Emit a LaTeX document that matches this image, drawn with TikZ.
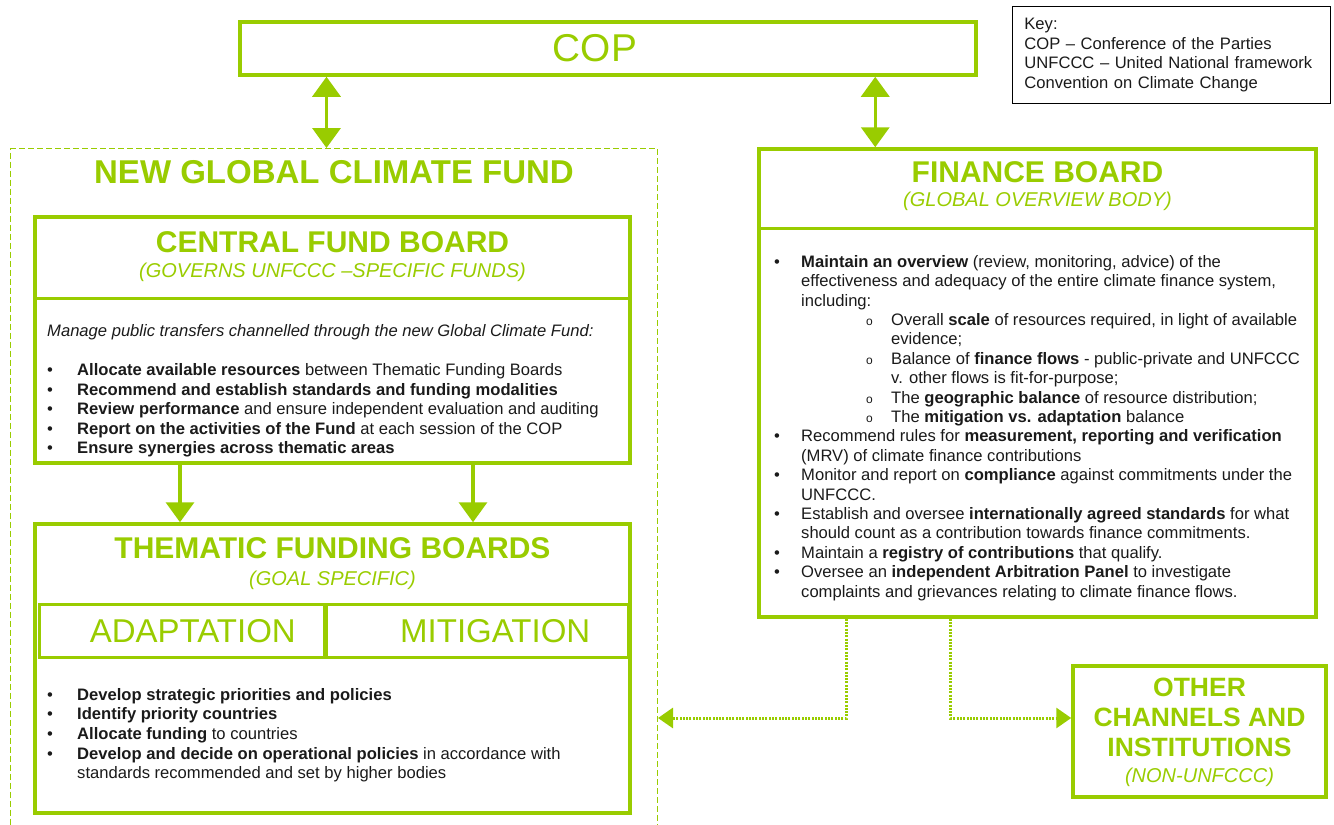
\documentclass[tikz,border=0pt]{standalone}
\usepackage{fontspec}
\setmainfont{Liberation Sans}
\usetikzlibrary{arrows.meta,positioning}

\definecolor{leaf}{RGB}{153,204,0}
\definecolor{ink}{RGB}{26,26,26}

\newcommand{\bul}[1][30pt]{\makebox[#1][l]{\textbullet}}
\newcommand{\sbul}{\hspace*{92pt}\makebox[25pt][l]{\fontsize{12}{12}\selectfont o}}

\tikzset{
  board/.style={draw=leaf, line width=3.5pt, inner sep=0pt},
  rowcell/.style={draw=leaf, line width=2.5pt, inner sep=0pt, text=leaf, font=\fontsize{33}{33}\selectfont},
  boardhead/.style={text=leaf, font=\fontsize{30}{30}\selectfont\bfseries},
  boardsub/.style={text=leaf, font=\fontsize{20}{20}\selectfont\itshape},
  listtext/.style={align=left, anchor=north west, inner sep=0pt, text=ink, font=\fontsize{16.6}{19.6}\selectfont},
  bigarrow/.style={leaf, line width=3.5pt, >={Triangle[width=28pt,length=20pt]}, ->},
  dotarrow/.style={leaf, line width=3pt, dash pattern=on 2pt off 1.3pt, -{Triangle[width=20pt,length=15pt]}},
  splitline/.style={leaf, line width=3.5pt}
}

\begin{document}
\begin{tikzpicture}[x=1pt,y=-1pt]
\useasboundingbox (0,0) rectangle (1334,825);
\clip (0,0) rectangle (1334,825);

% COP and key
\node[board, minimum width=736pt, minimum height=53pt, text=leaf, font=\fontsize{38.8}{38.8}\selectfont] (cop) at (608,48.5) {COP\hspace*{26pt}};
\node[draw=black, line width=0.8pt, anchor=north west, inner xsep=12pt, inner ysep=0pt, text width=294pt, minimum height=97pt, align=left, text=ink, font=\fontsize{16.6}{19.6}\selectfont] (key) at (1012,6) {Key:\\COP – Conference of the Parties\\UNFCCC – United National framework\\Convention on Climate Change};

% new global climate fund
\node[draw=leaf, line width=1pt, dash pattern=on 6pt off 3pt, anchor=north west, minimum width=647pt, minimum height=700pt, inner sep=0pt] (fund) at (10,148) {};
\node[boardhead, font=\fontsize{33}{33}\selectfont\bfseries] (fundtitle) at ([yshift=-24pt]fund.north) {NEW GLOBAL CLIMATE FUND};

% central fund board
\node[board, minimum width=595pt, minimum height=246pt] (cfb) at (332.5,340) {};
\node[boardhead] (cfbtitle) at ([yshift=-27pt]cfb.north) {CENTRAL FUND BOARD};
\node[boardsub] (cfbsub) at ([yshift=-57pt]cfb.north) {(GOVERNS UNFCCC –SPECIFIC FUNDS)};
\draw[splitline] ([yshift=-83pt]cfb.north west) -- ([yshift=-83pt]cfb.north east);
\node[listtext] (cfblist) at (47,324) {\textit{Manage public transfers channelled through the new Global Climate Fund:}\\[19.6pt]
  \bul\textbf{Allocate available resources} between Thematic Funding Boards\\
  \bul\textbf{Recommend and establish standards and funding modalities}\\
  \bul\textbf{Review performance} and ensure independent evaluation and auditing\\
  \bul\textbf{Report on the activities of the Fund} at each session of the COP\\
  \bul\textbf{Ensure synergies across thematic areas}};

% thematic funding boards
\node[board, minimum width=595pt, minimum height=289pt] (tfb) at (332.5,668.5) {};
\node[boardhead] (tfbtitle) at ([yshift=-26pt]tfb.north) {THEMATIC FUNDING BOARDS};
\node[boardsub] (tfbsub) at ([yshift=-58pt]tfb.north) {(GOAL SPECIFIC)};
\node[rowcell, minimum width=284.5pt, minimum height=53pt] (adapt) at (181.75,631) {\hspace*{22pt}ADAPTATION};
\node[rowcell, minimum width=301.5pt, minimum height=53pt, right=0pt of adapt] (mitig) {\hspace*{36pt}MITIGATION};
\node[listtext] (tfblist) at (47,688) {\bul\textbf{Develop strategic priorities and policies}\\
  \bul\textbf{Identify priority countries}\\
  \bul\textbf{Allocate funding} to countries\\
  \bul\textbf{Develop and decide on operational policies} in accordance with\\
  \hspace*{30pt}standards recommended and set by higher bodies};

% finance board
\node[board, minimum width=557pt, minimum height=468pt] (fb) at (1037.5,383) {};
\node[boardhead] (fbtitle) at ([yshift=-25pt]fb.north) {FINANCE BOARD};
\node[boardsub] (fbsub) at ([yshift=-54pt]fb.north) {(GLOBAL OVERVIEW BODY)};
\draw[splitline] ([yshift=-81pt]fb.north west) -- ([yshift=-81pt]fb.north east);
\node[listtext, font=\fontsize{16.6}{19.4}\selectfont] (fblist) at (774,255) {\bul[27pt]\textbf{Maintain an overview} (review, monitoring, advice) of the\\
  \hspace*{27pt}effectiveness and adequacy of the entire climate finance system,\\
  \hspace*{27pt}including:\\
  \sbul Overall \textbf{scale} of resources required, in light of available\\
  \hspace*{117pt}evidence;\\
  \sbul Balance of \textbf{finance flows} - public-private and UNFCCC\\
  \hspace*{117pt}v. other flows is fit-for-purpose;\\
  \sbul The \textbf{geographic balance} of resource distribution;\\
  \sbul The \textbf{mitigation vs. adaptation} balance\\
  \bul[27pt]Recommend rules for \textbf{measurement, reporting and verification}\\
  \hspace*{27pt}(MRV) of climate finance contributions\\
  \bul[27pt]Monitor and report on \textbf{compliance} against commitments under the\\
  \hspace*{27pt}UNFCCC.\\
  \bul[27pt]Establish and oversee \textbf{internationally agreed standards} for what\\
  \hspace*{27pt}should count as a contribution towards finance commitments.\\
  \bul[27pt]Maintain a \textbf{registry of contributions} that qualify.\\
  \bul[27pt]Oversee an \textbf{independent Arbitration Panel} to investigate\\
  \hspace*{27pt}complaints and grievances relating to climate finance flows.};

% other channels
\node[board, minimum width=253pt, minimum height=131pt] (oc) at (1199.5,731.5) {};
\node[boardhead, align=center, font=\fontsize{26.5}{30}\selectfont\bfseries] (octitle) at ([yshift=14.5pt]oc.center) {OTHER\\CHANNELS AND\\INSTITUTIONS};
\node[boardsub] (ocsub) at ([yshift=-45.5pt]oc.center) {(NON-UNFCCC)};

% arrows
\coordinate (fundtop) at ([xshift=-7.5pt]fund.north);
\coordinate (fbtop) at ([xshift=118pt]fb.north west);
\draw[bigarrow, <->] (fundtop |- cop.south) -- (fundtop);
\draw[bigarrow, <->] (fbtop |- cop.south) -- (fbtop);
\draw[bigarrow] ([xshift=-152.5pt]cfb.south) -- ([xshift=-152.5pt]tfb.north);
\draw[bigarrow] ([xshift=140.5pt]cfb.south) -- ([xshift=140.5pt]tfb.north);

\coordinate (split) at (0,718);
\draw[dotarrow] ([xshift=89pt]fb.south west) |- (split -| fund.east);
\draw[dotarrow] ([xshift=193pt]fb.south west) |- (split -| oc.west);
\end{tikzpicture}
\end{document}
